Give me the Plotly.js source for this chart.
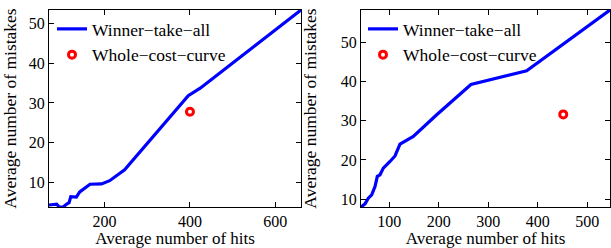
<!DOCTYPE html>
<html><head><meta charset="utf-8">
<script src="https://cdn.plot.ly/plotly-3.0.1.min.js"></script>
<style>html,body{margin:0;padding:0;background:#fff}#c{width:611px;height:248px}</style>
</head><body><div id="c"></div>
<script>
// Left panel
const leftHits = [70, 80, 88, 94, 103, 111, 117, 121, 128, 134, 142, 166, 193, 212, 247, 306, 396, 424, 660];
const leftMistakes = [4.4, 4.6, 4.6, 3.9, 3.9, 4.6, 5.0, 6.5, 6.4, 6.4, 7.7, 9.6, 9.7, 10.5, 13.2, 20.6, 31.8, 33.7, 53.3];
const leftPointHits = [400];
const leftPointMistakes = [27.8];
// Right panel
const rightHits = [42.8, 50.9, 57.6, 64.4, 71.1, 75.8, 81.2, 87.9, 101.4, 111.5, 121.6, 148.5, 195.8, 265, 377.6, 546];
const rightMistakes = [8.0, 8.8, 10.25, 11.1, 13.2, 15.8, 16.2, 17.9, 19.6, 21.0, 24.0, 26.0, 31.5, 39.2, 42.7, 58.2];
const rightPointHits = [451.5];
const rightPointMistakes = [31.6];

const leftXTicks = [200, 400, 600];
const rightXTicks = [100, 200, 300, 400, 500];
const yTicks = [10, 20, 30, 40, 50];
const names = ['Winner\u2212take\u2212all', 'Whole\u2212cost\u2212curve'];

const fam = 'Times New Roman, Liberation Serif, DejaVu Serif, serif';
const font = {family: fam, size: 17.5, color: '#000'};
const tickFont = {family: fam, size: 16, color: '#000'};
const xTitleFont = {family: fam, size: 17, color: '#000'};
const lineStyle = {color: '#0000ff', width: 3.2};
const markerStyle = {symbol: 'circle-open', size: 7, color: '#ff0000', line: {width: 3, color: '#ff0000'}};

const traces = [
  {x: leftHits, y: leftMistakes, type: 'scatter', mode: 'lines', line: lineStyle, name: names[0], xaxis: 'x', yaxis: 'y', legend: 'legend'},
  {x: leftPointHits, y: leftPointMistakes, type: 'scatter', mode: 'markers', marker: markerStyle, name: names[1], xaxis: 'x', yaxis: 'y', legend: 'legend'},
  {x: rightHits, y: rightMistakes, type: 'scatter', mode: 'lines', line: lineStyle, name: names[0], xaxis: 'x2', yaxis: 'y2', legend: 'legend2'},
  {x: rightPointHits, y: rightPointMistakes, type: 'scatter', mode: 'markers', marker: markerStyle, name: names[1], xaxis: 'x2', yaxis: 'y2', legend: 'legend2'}
];

function ax(extra) {
  return Object.assign({
    showline: true, linecolor: '#000', linewidth: 1, mirror: 'ticks', ticks: 'inside', ticklen: 5,
    tickcolor: '#000', showgrid: false, zeroline: false, tickfont: tickFont, fixedrange: true
  }, extra);
}
const yDom = [1 - 207/248, 1 - 10/248];
const layout = {
  width: 611, height: 248, margin: {l: 0, r: 0, t: 0, b: 0},
  paper_bgcolor: '#fff', plot_bgcolor: '#fff', font: font,
  xaxis: ax({domain: [49/611, 301/611], range: [70, 660], tickvals: leftXTicks, anchor: 'y', ticklabelstandoff: 0,
    title: {text: 'Average number of hits', font: xTitleFont}}),
  yaxis: ax({domain: yDom, range: [3.9, 53.3], tickvals: yTicks, anchor: 'x',
    title: {text: 'Average number of mistakes', font: font}}),
  xaxis2: ax({domain: [361/611, 610/611], range: [42.8, 546], tickvals: rightXTicks, anchor: 'y2', ticklabelstandoff: 0,
    title: {text: 'Average number of hits', font: xTitleFont}}),
  yaxis2: ax({domain: yDom, range: [8.0, 58.2], tickvals: yTicks, anchor: 'x2',
    title: {text: 'Average number of mistakes', font: font}}),
  legend: {x: 52/611, y: 1 - 11/248, xanchor: 'left', yanchor: 'top', bgcolor: 'rgba(0,0,0,0)', font: font, itemwidth: 30, tracegroupgap: 0},
  legend2: {x: 363/611, y: 1 - 11/248, xanchor: 'left', yanchor: 'top', bgcolor: 'rgba(0,0,0,0)', font: font, itemwidth: 30, tracegroupgap: 0},
  showlegend: true
};
Plotly.newPlot('c', traces, layout, {staticPlot: true, displayModeBar: false});
</script>
</body></html>
